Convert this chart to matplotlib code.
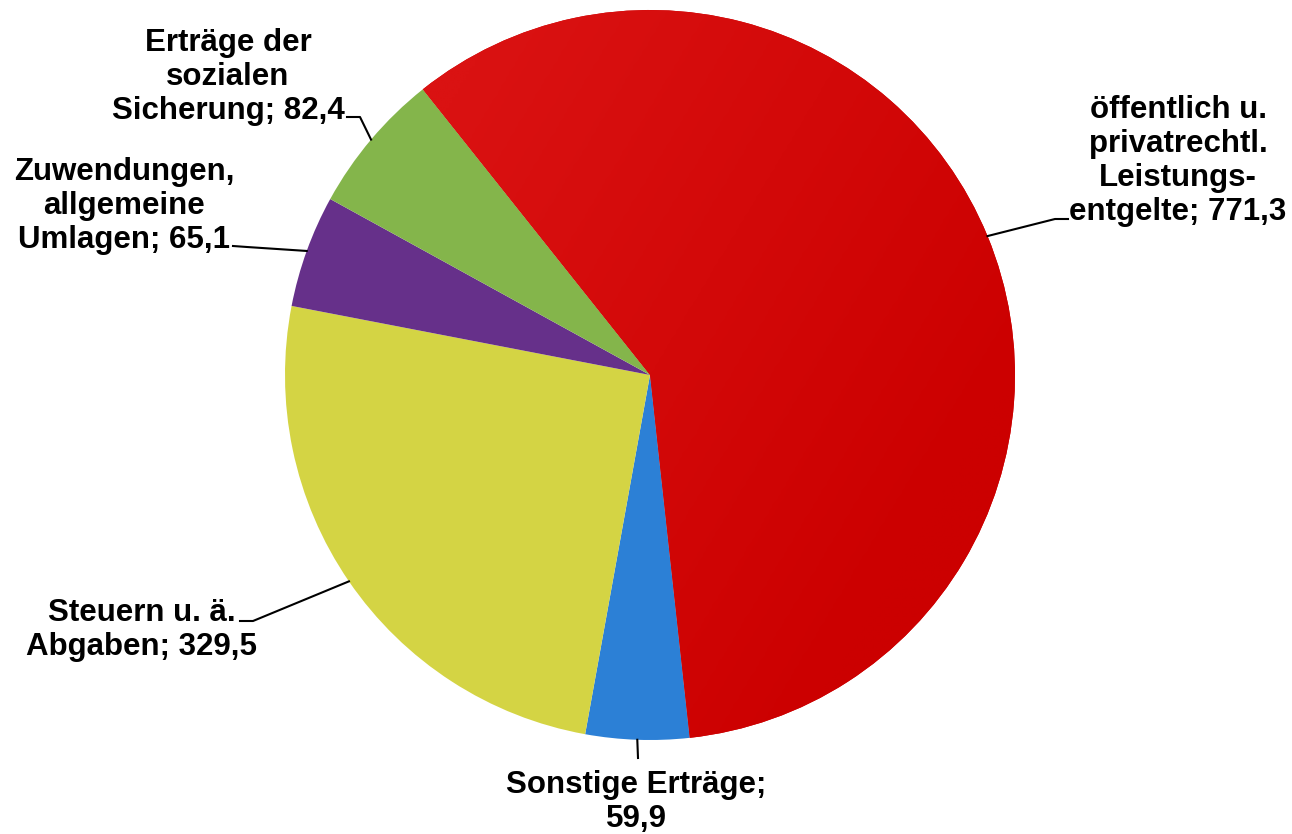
import matplotlib.pyplot as plt
import numpy as np
from matplotlib.colors import LinearSegmentedColormap

# Erträge (Mrd.), clockwise from the big red slice
labels = ['öffentlich u.\nprivatrechtl.\nLeistungs-\nentgelte; 771,3',
          'Sonstige Erträge;\n59,9',
          'Steuern u. ä.\nAbgaben; 329,5',
          'Zuwendungen,\nallgemeine\nUmlagen; 65,1',
          'Erträge der\nsozialen\nSicherung; 82,4']
values = [771.3, 59.9, 329.5, 65.1, 82.4]
colors = ['#cc0000', '#2c80d6', '#d4d444', '#66308a', '#84b54b']

# label placement in pixel coords (y up): text centre, elbow, end of leader
text_pos = [(1178, 673), (636, 32), (142, 204), (124, 628), (228, 757)]
elbows = [(1055, 615), (638, 76), (253, 213), (247, 587), (360, 717)]
ends = [(1068, 615), (638, 76), (240, 213), (233, 588), (347, 717)]

W, H = 1292, 834
center = (650, 459)
radius = 365

fig = plt.figure(figsize=(W / 100, H / 100), dpi=100)
ax = fig.add_axes([0, 0, 1, 1])

wedges, _ = ax.pie(values, colors=colors, startangle=128.5, counterclock=False,
                   center=center, radius=radius, frame=True,
                   wedgeprops={'linewidth': 0})

# subtle gradient on the red slice (lighter top-left)
cmap = LinearSegmentedColormap.from_list('redgrad', ['#da1212', '#cc0000'])
grad = np.linspace(0, 1, 256)[None, :] * np.ones((256, 1))
grad = np.clip(grad + np.linspace(0, 0.6, 256)[:, None] - 0.3, 0, 1)
im = ax.imshow(grad, cmap=cmap, extent=(center[0] - radius, center[0] + radius,
                                        center[1] - radius, center[1] + radius),
               origin='upper', zorder=wedges[0].get_zorder() + 0.1, interpolation='bilinear')
im.set_clip_path(wedges[0])

for w, lab, tp, el, en in zip(wedges, labels, text_pos, elbows, ends):
    ang = np.deg2rad((w.theta1 + w.theta2) / 2)
    ex = center[0] + radius * np.cos(ang)
    ey = center[1] + radius * np.sin(ang)
    ax.plot([ex, el[0], en[0]], [ey, el[1], en[1]], color='black', lw=1.5, zorder=5)
    ax.text(tp[0], tp[1], lab, ha='center', va='center', multialignment='center',
            fontsize=22.5, fontweight='bold', family='Liberation Sans', linespacing=1.17)

ax.set_xlim(0, W)
ax.set_ylim(0, H)
ax.set_aspect('equal')
ax.axis('off')

fig.savefig('out.png', dpi=100)
